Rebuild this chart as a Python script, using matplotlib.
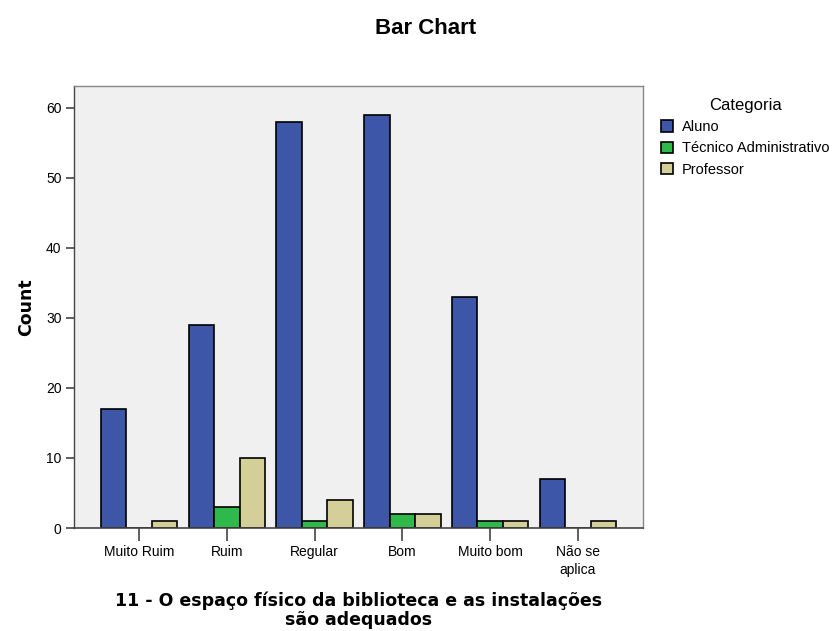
import matplotlib
matplotlib.use("Agg")
import matplotlib.pyplot as plt
import numpy as np
from matplotlib.patches import Patch

plt.rcParams['font.family'] = ['Liberation Sans', 'DejaVu Sans']

categories = ["Muito Ruim", "Ruim", "Regular", "Bom", "Muito bom", "Não se\naplica"]
series_names = ["Aluno", "Técnico Administrativo", "Professor"]
aluno = [17, 29, 58, 59, 33, 7]
tecnico = [0, 3, 1, 2, 1, 0]
professor = [1, 10, 4, 2, 1, 1]
colors = ["#3d56a8", "#2fb94b", "#d4cf98"]

fig = plt.figure(figsize=(8.35, 6.31), dpi=100)
ax = fig.add_axes([74/835, 1-528/631, (643-74)/835, (528-86)/631])
ax.set_facecolor("#f0f0f0")

x = np.arange(len(categories))
w = 0.29
for i, (vals, c) in enumerate(zip([aluno, tecnico, professor], colors)):
    ax.bar(x + (i-1)*w, vals, width=w, color=c, edgecolor="black", linewidth=1.2, zorder=2)

ax.set_xlim(-0.74, len(categories)-1+0.74)
ax.set_ylim(0, 63.1)
ax.set_yticks(range(0, 61, 10))
ax.set_xticks(x)
ax.set_xticklabels(categories, fontsize=10, linespacing=1.35)
ax.tick_params(axis='y', labelsize=10, length=6, width=1.2, color="#444444", pad=3)
ax.tick_params(axis='x', length=9, width=1.2, color="#444444", pad=3.5)

for s in ["left", "top", "right"]:
    ax.spines[s].set_color("#888888")
    ax.spines[s].set_linewidth(1.0)
ax.spines["bottom"].set_color("#444444")
ax.spines["bottom"].set_linewidth(1.2)
ax.spines["left"].set_color("#444444")

ax.set_ylabel("Count", fontsize=12.5, fontweight="bold", labelpad=8, family="DejaVu Sans")
ax.set_xlabel("11 - O espaço físico da biblioteca e as instalações\nsão adequados",
              fontsize=12.5, fontweight="bold", labelpad=10, linespacing=1.1, family="DejaVu Sans")
fig.text(426/835, 1-28/631, "Bar Chart", fontsize=16, fontweight="bold", ha="center", va="center")

handles = [Patch(facecolor=c, edgecolor="black", linewidth=1.2, label=n) for c, n in zip(colors, series_names)]
leg = fig.legend(handles=handles, title="Categoria", loc="upper left",
                 bbox_to_anchor=(655/835, 1-92/631), frameon=False, fontsize=10.5,
                 title_fontsize=12, handlelength=0.85, handleheight=0.85, handletextpad=0.6,
                 labelspacing=0.5, borderaxespad=0)

fig.savefig("out.png", dpi=100, facecolor="white")
